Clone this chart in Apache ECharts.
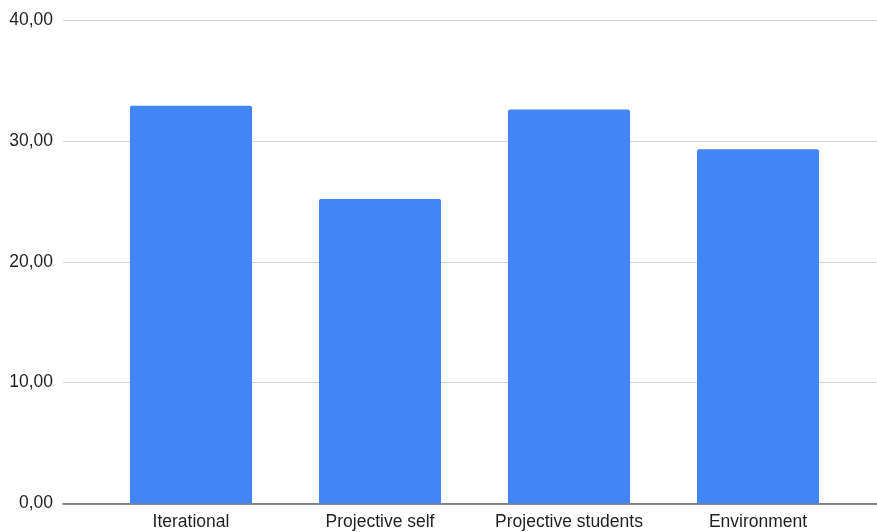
<!DOCTYPE html>
<html><head><meta charset="utf-8">
<script src="https://cdn.jsdelivr.net/npm/echarts@6/dist/echarts.min.js"></script>
<style>html,body{margin:0;padding:0;background:#fff}#c{width:877px;height:532px}</style>
</head><body><div id="c"></div>
<script>
const categories = ["Iterational", "Projective self", "Projective students", "Environment"];
const values = [32.9, 25.2, 32.6, 29.3];
const yTicks = [0, 10, 20, 30, 40];

const chart = echarts.init(document.getElementById('c'), null, {renderer: 'canvas'});
const font = 'Arial, "Liberation Sans", sans-serif';
chart.setOption({
  animation: false,
  grid: [
    {left: 63, right: 0, top: 20, bottom: 28.5},
    {left: 96.5, right: 24.5, top: 20, bottom: 28.5}
  ],
  xAxis: [
    {type: 'value', gridIndex: 0, min: 0, max: 1, show: true,
     axisLine: {show: true, onZero: false, lineStyle: {color: '#666', width: 1.5}},
     axisTick: {show: false}, axisLabel: {show: false}, splitLine: {show: false}},
    {type: 'category', gridIndex: 1, data: categories,
     axisLine: {show: false}, axisTick: {show: false},
     axisLabel: {color: '#1f1f1f', fontSize: 17.5, fontFamily: font, margin: 10,
       interval: 0, hideOverlap: false}}
  ],
  yAxis: [
    {type: 'value', gridIndex: 0, min: yTicks[0], max: yTicks[yTicks.length-1], interval: 10,
     axisLine: {show: false}, axisTick: {show: false},
     axisLabel: {color: '#1f1f1f', fontSize: 17.5, fontFamily: font, margin: 10,
       formatter: v => v.toFixed(2).replace('.', ',')},
     splitLine: {lineStyle: {color: '#d3d3d3', width: 1}}},
    {type: 'value', gridIndex: 1, min: 0, max: 40, show: false, splitLine: {show: false}}
  ],
  series: [{
    type: 'bar', xAxisIndex: 1, yAxisIndex: 1, data: values,
    barWidth: 122,
    itemStyle: {color: '#4285F4', borderRadius: [2, 2, 0, 0]}
  }]
});
</script></body></html>
